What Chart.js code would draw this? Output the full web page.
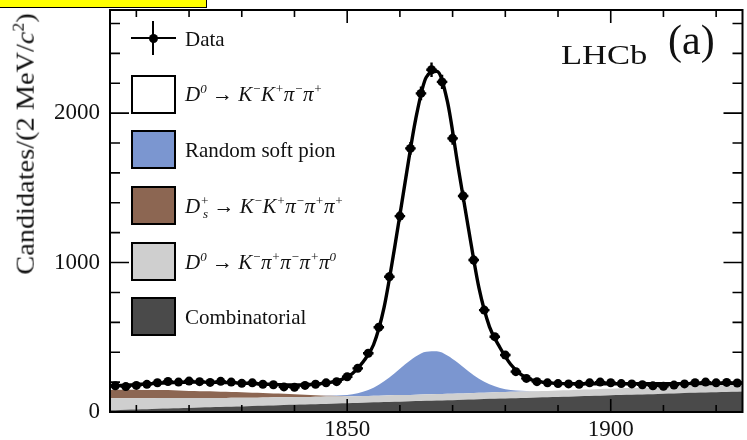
<!DOCTYPE html>
<html><head><meta charset="utf-8">
<script src="https://cdn.jsdelivr.net/npm/chart.js@4.4.0/dist/chart.umd.min.js"></script>
<style>
html,body{margin:0;padding:0;background:#fff;}
#wrap{position:relative;width:747px;height:440px;overflow:hidden;font-family:"Liberation Serif","DejaVu Serif",serif;color:#111;}
#c{position:absolute;left:0;top:0;}
.abs{position:absolute;white-space:nowrap;}
.box{position:absolute;left:131px;width:41px;height:35px;border:2px solid #000;}
.lt{position:absolute;left:185px;font-size:21px;line-height:24px;white-space:nowrap;}
.lt sup,.lt sub{font-size:13px;line-height:0;}
</style></head><body>
<div id="wrap">
<canvas id="c" width="747" height="440"></canvas>
<div class="abs" style="left:0;top:0;width:206px;height:7px;background:#ffff00;border-right:1.5px solid #000;border-bottom:1.5px solid #000;"></div>
<div class="abs" id="ytitle" style="left:25px;top:144px;font-size:26px;transform:translate(-50%,-50%) rotate(-90deg) scaleX(1.09);">Candidates/(2 MeV/<i>c</i><sup style="font-size:16px">2</sup>)</div>
<div class="abs" style="left:561px;top:40px;font-size:27px;line-height:30px;transform-origin:0 50%;transform:scaleX(1.28);">LHCb</div>
<div class="abs" style="left:668px;top:19px;font-size:42px;line-height:42px;">(a)</div>
<!-- legend -->
<div class="abs" style="left:131px;top:21px;width:45px;height:34px;">
  <div class="abs" style="left:0;top:16px;width:45px;height:2px;background:#000"></div>
  <div class="abs" style="left:21px;top:0;width:2px;height:34px;background:#000"></div>
  <div class="abs" style="left:17.5px;top:12.5px;width:9px;height:9px;border-radius:50%;background:#000"></div>
</div>
<div class="lt" style="top:27px">Data</div>
<div class="box" style="top:75px;background:#ffffff"></div>
<div class="lt" style="top:82px"><i>D<sup>0</sup></i> → <i>K<sup>−</sup>K<sup>+</sup>π<sup>−</sup>π<sup>+</sup></i></div>
<div class="box" style="top:130px;background:#7b96d0"></div>
<div class="lt" style="top:138px">Random soft pion</div>
<div class="box" style="top:186px;background:#8c6652"></div>
<div class="lt" style="top:194px"><i>D<sup>+</sup><sub style="margin-left:-0.45em">s</sub></i> → <i>K<sup>−</sup>K<sup>+</sup>π<sup>−</sup>π<sup>+</sup>π<sup>+</sup></i></div>
<div class="box" style="top:242px;background:#cfcfcf"></div>
<div class="lt" style="top:250px"><i>D<sup>0</sup></i> → <i>K<sup>−</sup>π<sup>+</sup>π<sup>−</sup>π<sup>+</sup>π<sup>0</sup></i></div>
<div class="box" style="top:297px;background:#4a4a4a"></div>
<div class="lt" style="top:305px">Combinatorial</div>
</div>
<script>
// ---- data ----
const binCenters = [1806,1808,1810,1812,1814,1816,1818,1820,1822,1824,1826,1828,1830,1832,1834,1836,1838,1840,1842,1844,1846,1848,1850,1852,1854,1856,1858,1860,1862,1864,1866,1868,1870,1872,1874,1876,1878,1880,1882,1884,1886,1888,1890,1892,1894,1896,1898,1900,1902,1904,1906,1908,1910,1912,1914,1916,1918,1920,1922,1924];
const dataCounts = [175,170,178,185,196,204,200,207,203,198,205,200,192,195,186,182,168,165,178,186,195,203,236,292,393,567,905,1311,1764,2132,2290,2209,1831,1445,1017,682,504,381,270,225,203,195,190,188,185,195,200,196,190,188,182,175,172,180,188,196,200,195,198,194];
const dataErrors = [13,13,13,14,14,14,14,14,14,14,14,14,14,14,14,13,13,13,13,14,14,14,15,17,20,24,30,36,42,46,48,47,43,38,32,26,22,20,16,15,14,14,14,14,14,14,14,14,14,14,13,13,13,13,14,14,14,14,14,14];

const curveX = [1805,1807,1809,1811,1813,1815,1817,1819,1821,1823,1825,1827,1829,1831,1833,1835,1837,1839,1841,1843,1845,1847,1849,1851,1853,1855,1857,1859,1861,1863,1865,1867,1869,1871,1873,1875,1877,1879,1881,1883,1885,1887,1889,1891,1893,1895,1897,1899,1901,1903,1905,1907,1909,1911,1913,1915,1917,1919,1921,1923,1925];
const fitTotal = [174,177,181,186,190,194,197,199,200,200,199,197,195,192,189,186,183,181,181,184,190,200,218,258,335,450,700,1100,1540,1960,2240,2280,2080,1650,1230,830,570,430,320,250,215,200,193,190,189,189,189,189,189,189,189,189,189,189,190,190,191,191,192,192,193];
const combinatorial = [12,14,16,18,20,23,25,27,29,31,33,35,37,39,41,44,46,48,50,52,54,56,58,60,62,65,67,69,71,73,75,77,79,81,83,86,88,90,92,94,96,98,100,102,104,107,109,111,113,115,117,119,121,123,125,128,130,132,134,136,138];
const partReco = [80,78,76,74,72,70,68,66,64,62,61,59,58,56,55,53,52,51,50,49,48,47,46,45,45,44,44,44,43,43,43,43,43,43,43,43,43,43,43,43,43,43,43,43,43,44,44,44,44,45,45,45,46,46,46,47,47,47,48,48,48];
const dsMisid = [56,57,57,56,55,54,52,50,48,46,44,41,38,35,32,29,25,21,17,13,9,6,3,1,0,0,0,0,0,0,0,0,0,0,0,0,0,0,0,0,0,0,0,0,0,0,0,0,0,0,0,0,0,0,0,0,0,0,0,0,0];
const softPion = [0,0,0,0,0,0,0,0,0,0,0,0,0,0,0,0,0,0,0,0,0,2,5,13,28,54,94,147,205,256,286,286,256,205,147,94,54,28,13,5,2,0,0,0,0,0,0,0,0,0,0,0,0,0,0,0,0,0,0,0,0];

const xTickValues = [1810,1820,1830,1840,1850,1860,1870,1880,1890,1900,1910,1920];
const xTickLabels = ['','','','','1850','','','','','1900','',''];
const yTickValues = [0,200,400,600,800,1000,1200,1400,1600,1800,2000,2200,2400,2600];
const yTickLabels = ['0','','','','','1000','','','','','2000','','',''];

const X_MIN = 1805, X_MAX = 1925, Y_MIN = 0, Y_MAX = 2690;

function pts(xs, ys){ return xs.map((x,i)=>({x:x, y:ys[i]})); }

const frameTicks = {
  id:'frameTicks',
  afterDraw(chart){
    const {ctx, chartArea:a} = chart;
    const xs = chart.scales.x, ys = chart.scales.y;
    ctx.save();
    ctx.strokeStyle = '#000';
    ctx.lineWidth = 2;
    ctx.strokeRect(a.left, a.top, a.right-a.left, a.bottom-a.top);
    ctx.lineWidth = 1.6;
    ctx.beginPath();
    xTickValues.forEach((v,i)=>{
      const p = xs.getPixelForValue(v);
      const L = xTickLabels[i] ? 13 : 7;
      ctx.moveTo(p, a.bottom); ctx.lineTo(p, a.bottom-L);
      ctx.moveTo(p, a.top); ctx.lineTo(p, a.top+L);
    });
    yTickValues.forEach((v,i)=>{
      const p = ys.getPixelForValue(v);
      const L = yTickLabels[i] ? 19 : 10;
      ctx.moveTo(a.left, p); ctx.lineTo(a.left+L, p);
      ctx.moveTo(a.right, p); ctx.lineTo(a.right-L, p);
    });
    ctx.stroke();
    ctx.restore();
  }
};

const errorBars = {
  id:'errorBars',
  afterDatasetsDraw(chart){
    const {ctx, chartArea:a} = chart;
    const xs = chart.scales.x, ys = chart.scales.y;
    ctx.save();
    ctx.beginPath(); ctx.rect(a.left, a.top, a.right-a.left, a.bottom-a.top); ctx.clip();
    ctx.strokeStyle = '#000'; ctx.lineWidth = 2.4;
    ctx.beginPath();
    binCenters.forEach((x,i)=>{
      const px = xs.getPixelForValue(x), py = ys.getPixelForValue(dataCounts[i]);
      ctx.moveTo(px, ys.getPixelForValue(dataCounts[i]-dataErrors[i]));
      ctx.lineTo(px, ys.getPixelForValue(dataCounts[i]+dataErrors[i]));
      ctx.moveTo(xs.getPixelForValue(x-1), py);
      ctx.lineTo(xs.getPixelForValue(x+1), py);
    });
    ctx.stroke();
    ctx.restore();
  }
};

const layer = (label, vals, color, fill) => ({
  label, data: pts(curveX, vals), yAxisID:'ys', backgroundColor: color, borderColor: color,
  borderWidth: 0, pointRadius: 0, fill: fill, cubicInterpolationMode:'monotone'
});

new Chart(document.getElementById('c'), {
  type:'line',
  data:{ datasets:[
    layer('Combinatorial', combinatorial, '#4a4a4a', 'origin'),
    layer('D0 -> K- pi+ pi- pi+ pi0', partReco, '#cfcfcf', '-1'),
    layer('Ds+ -> K- K+ pi- pi+ pi+', dsMisid, '#8c6652', '-1'),
    layer('Random soft pion', softPion, '#7b96d0', '-1'),
    { label:'Fit', data: pts(curveX, fitTotal), yAxisID:'y', borderColor:'#000', borderWidth:3.4,
      pointRadius:0, fill:false, cubicInterpolationMode:'monotone' },
    { label:'Data', data: pts(binCenters, dataCounts), yAxisID:'y', showLine:false,
      pointRadius:4.5, pointBackgroundColor:'#000', pointBorderColor:'#000', pointBorderWidth:0 }
  ]},
  options:{
    responsive:false, animation:false, devicePixelRatio:1,
    layout:{ padding:{ top:10, right:4, left:0, bottom:0 } },
    plugins:{ legend:{display:false}, tooltip:{enabled:false}, filler:{ drawTime:'beforeDatasetsDraw' } },
    scales:{
      x:{ type:'linear', min:X_MIN, max:X_MAX,
        grid:{display:false, drawTicks:false}, border:{display:false},
        afterBuildTicks(s){ s.ticks = xTickValues.map(v=>({value:v})); },
        afterFit(s){ s.height = 28; s.paddingLeft = 0; s.paddingRight = 0; },
        ticks:{ autoSkip:false, maxRotation:0, padding:4, color:'#111',
          font:{ family:'"Liberation Serif", serif', size:23 },
          callback:(v)=>{ const i = xTickValues.indexOf(v); return i>=0 ? xTickLabels[i] : ''; } } },
      y:{ type:'linear', min:Y_MIN, max:Y_MAX,
        grid:{display:false, drawTicks:false}, border:{display:false},
        afterBuildTicks(s){ s.ticks = yTickValues.map(v=>({value:v})); },
        afterFit(s){ s.width = 110; s.paddingTop = 0; s.paddingBottom = 0; },
        ticks:{ autoSkip:false, padding:10, color:'#111',
          font:{ family:'"Liberation Serif", serif', size:23 },
          callback:(v)=>{ const i = yTickValues.indexOf(v); return i>=0 ? yTickLabels[i] : ''; } } },
      ys:{ type:'linear', min:Y_MIN, max:Y_MAX, stacked:true, display:false }
    }
  },
  plugins:[errorBars, frameTicks]
});
</script>
</body></html>
